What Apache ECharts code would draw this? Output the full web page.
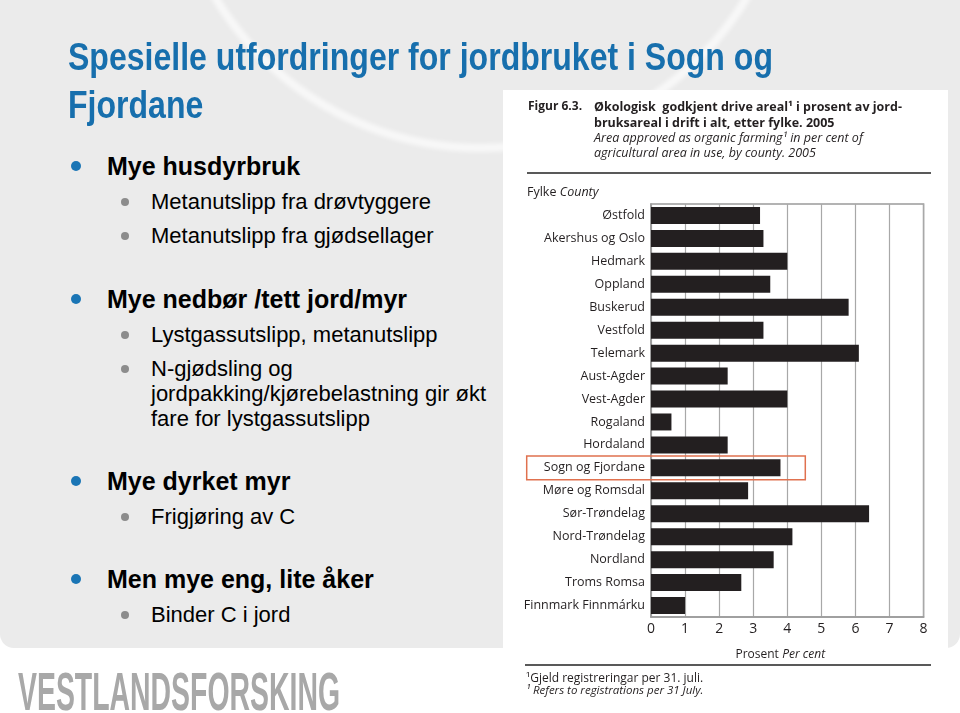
<!DOCTYPE html>
<html><head><meta charset="utf-8">
<script src="https://cdn.jsdelivr.net/npm/echarts@6/dist/echarts.min.js"></script>
<style>
html,body{margin:0;padding:0;width:960px;height:713px;overflow:hidden;background:#fff;font-family:"Liberation Sans",Arial,sans-serif;}
#slide{position:absolute;left:0;top:0;width:960px;height:648px;background:#ebebeb;border-radius:0 0 14px 14px;overflow:hidden;}
#arc{position:absolute;left:167px;top:-476px;width:628px;height:628px;border-radius:50%;border:8px solid rgba(255,255,255,0.65);box-sizing:border-box;filter:blur(2px);}
.t{position:absolute;white-space:nowrap;color:#000;transform-origin:0 0;}
.dot{position:absolute;border-radius:50%;}
#chart{position:absolute;left:503px;top:90px;width:445px;height:623px;background:#fff;}
</style></head>
<body>
<div id="slide"><div id="arc"></div></div>
<div id="texts"></div>
<div id="chart"></div>
<script>
// ---- Data ----
const categories = ['Østfold','Akershus og Oslo','Hedmark','Oppland','Buskerud','Vestfold','Telemark','Aust-Agder','Vest-Agder','Rogaland','Hordaland','Sogn og Fjordane','Møre og Romsdal','Sør-Trøndelag','Nord-Trøndelag','Nordland','Troms Romsa','Finnmark Finnmárku'];
const values = [3.2, 3.3, 4.0, 3.5, 5.8, 3.3, 6.1, 2.25, 4.0, 0.6, 2.25, 3.8, 2.85, 6.4, 4.15, 3.6, 2.65, 1.0];
const axisMin = 0, axisMax = 8, axisStep = 1;
const highlighted = 'Sogn og Fjordane';

const titleLines = ['Spesielle utfordringer for jordbruket i Sogn og', 'Fjordane'];
const bullets = [
  {lvl:1, lines:['Mye husdyrbruk'], base:175},
  {lvl:2, lines:['Metanutslipp fra drøvtyggere'], base:210},
  {lvl:2, lines:['Metanutslipp fra gjødsellager'], base:244},
  {lvl:1, lines:['Mye nedbør /tett jord/myr'], base:308},
  {lvl:2, lines:['Lystgassutslipp, metanutslipp'], base:343},
  {lvl:2, lines:['N-gjødsling og','jordpakking/kjørebelastning gir økt','fare for lystgassutslipp'], base:377},
  {lvl:1, lines:['Mye dyrket myr'], base:490},
  {lvl:2, lines:['Frigjøring av C'], base:525},
  {lvl:1, lines:['Men mye eng, lite åker'], base:588},
  {lvl:2, lines:['Binder C i jord'], base:623}
];

// ---- slide text (HTML) ----
const host = document.getElementById('texts');
function addText(txt, x, base, size, weight, color){
  const d = document.createElement('div');
  d.className = 't';
  d.textContent = txt;
  d.style.left = x + 'px';
  d.style.fontSize = size + 'px';
  d.style.lineHeight = size + 'px';
  d.style.fontWeight = weight;
  d.style.color = color;
  d.style.top = (base - 0.8465*size) + 'px';
  host.appendChild(d);
  return d;
}
function addDot(cx, cy, dia, color){
  const d = document.createElement('div');
  d.className = 'dot';
  d.style.left = (cx - dia/2) + 'px';
  d.style.top = (cy - dia/2) + 'px';
  d.style.width = dia + 'px'; d.style.height = dia + 'px';
  d.style.background = color;
  host.appendChild(d);
}
const t1 = addText(titleLines[0], 68, 70, 38, 'bold', '#176fad');
const t2 = addText(titleLines[1], 68, 118, 38, 'bold', '#176fad');
const sc = 705 / t1.getBoundingClientRect().width;
t1.style.transform = 'scaleX(' + sc + ')';
t2.style.transform = 'scaleX(' + sc + ')';

bullets.forEach(b => {
  if (b.lvl === 1) {
    addDot(76, b.base - 9, 10, '#1a75b5');
    b.lines.forEach((l, i) => addText(l, 107, b.base + i*25, 25, 'bold', '#000'));
  } else {
    addDot(125, b.base - 8, 8, '#8c8c8c');
    b.lines.forEach((l, i) => addText(l, 151, b.base + i*25, 22, 'normal', '#000'));
  }
});
const logo = addText('VESTLANDSFORSKING', 18, 710, 53, 'bold', '#a8a8a8');
logo.style.transform = 'scaleX(' + (322 / logo.getBoundingClientRect().width) + ')';

// ---- chart ----
const FF = "'Open Sans', 'Noto Sans', sans-serif";
const ink = '#231f20';
const chart = echarts.init(document.getElementById('chart'), null, {renderer:'canvas'});
const gridL = 148, gridT = 114, gridW = 272.6, gridH = 413;

const graphicEls = [
  {type:'text', x:25, y:17, style:{text:'Figur 6.3.', font:'bold 12px ' + FF, fill:ink, textVerticalAlign:'middle'}},
  {type:'text', x:91, y:17, style:{text:'Økologisk  godkjent drive areal¹ i prosent av jord-', font:'bold 12.5px ' + FF, fill:ink, textVerticalAlign:'middle'}},
  {type:'text', x:91, y:33, style:{text:'bruksareal i drift i alt, etter fylke. 2005', font:'bold 12.5px ' + FF, fill:ink, textVerticalAlign:'middle'}},
  {type:'text', x:91, y:48, style:{text:'Area approved as organic farming¹ in per cent of', font:'italic 12.5px ' + FF, fill:ink, textVerticalAlign:'middle'}},
  {type:'text', x:91, y:63, style:{text:'agricultural area in use, by county. 2005', font:'italic 12.5px ' + FF, fill:ink, textVerticalAlign:'middle'}},
  {type:'line', shape:{x1:24, y1:83, x2:428, y2:83}, style:{stroke:'#222', lineWidth:1.5}},
  {type:'text', x:24, y:102, style:{text:'{a|Fylke} {b|County}', rich:{a:{font:'12.5px ' + FF, fill:ink}, b:{font:'italic 12.5px ' + FF, fill:ink}}, textVerticalAlign:'middle'}},
  {type:'line', shape:{x1:22, y1:575, x2:428, y2:575}, style:{stroke:'#222', lineWidth:1.5}},
  {type:'text', x:23, y:589, style:{text:'¹Gjeld registreringar per 31. juli.', font:'12px ' + FF, fill:ink, textVerticalAlign:'middle'}},
  {type:'text', x:23, y:601, style:{text:'¹ Refers to registrations per 31 July.', font:'italic 11.5px ' + FF, fill:ink, textVerticalAlign:'middle'}}
];

const option = {
  animation:false,
  backgroundColor:'#fff',
  grid:{left:gridL, top:gridT, width:gridW, height:gridH, show:true, borderColor:'#9a9a9a', borderWidth:1.5, backgroundColor:'transparent'},
  xAxis:{
    type:'value', min:axisMin, max:axisMax, interval:axisStep,
    axisLine:{show:true, lineStyle:{color:'#9a9a9a', width:1.5}},
    axisTick:{show:false},
    splitLine:{show:true, lineStyle:{color:'#a8a8a8', width:1.2}},
    axisLabel:{color:ink, fontFamily:FF, fontSize:14, margin:5},
    name:'{a|Prosent} {b|Per cent}', nameLocation:'middle', nameGap:32,
    nameTextStyle:{padding:[0,14,0,0], rich:{a:{fontFamily:FF, fontSize:12, color:ink}, b:{fontFamily:FF, fontSize:12, fontStyle:'italic', color:ink}}}
  },
  yAxis:{
    type:'category', inverse:true, data:categories,
    axisLine:{show:true, lineStyle:{color:'#9a9a9a', width:1.5}},
    axisTick:{show:false},
    axisLabel:{color:ink, fontFamily:FF, fontSize:12.5, margin:6}
  },
  series:[{type:'bar', data:values, barCategoryGap:'26%', itemStyle:{color:ink}, silent:true}],
  graphic:graphicEls
};
chart.setOption(option);

// highlight box around the selected county, positioned from the axis scale
const cy = chart.convertToPixel({yAxisIndex:0}, highlighted);
const band = gridH / categories.length;
graphicEls.push({type:'rect', shape:{x:23.7, y:cy - band/2 - 0.5, width:278.6, height:band + 1},
  style:{fill:'none', stroke:'#e0714f', lineWidth:1.5}, z:100});
chart.setOption({graphic:graphicEls});
</script>
</body></html>
